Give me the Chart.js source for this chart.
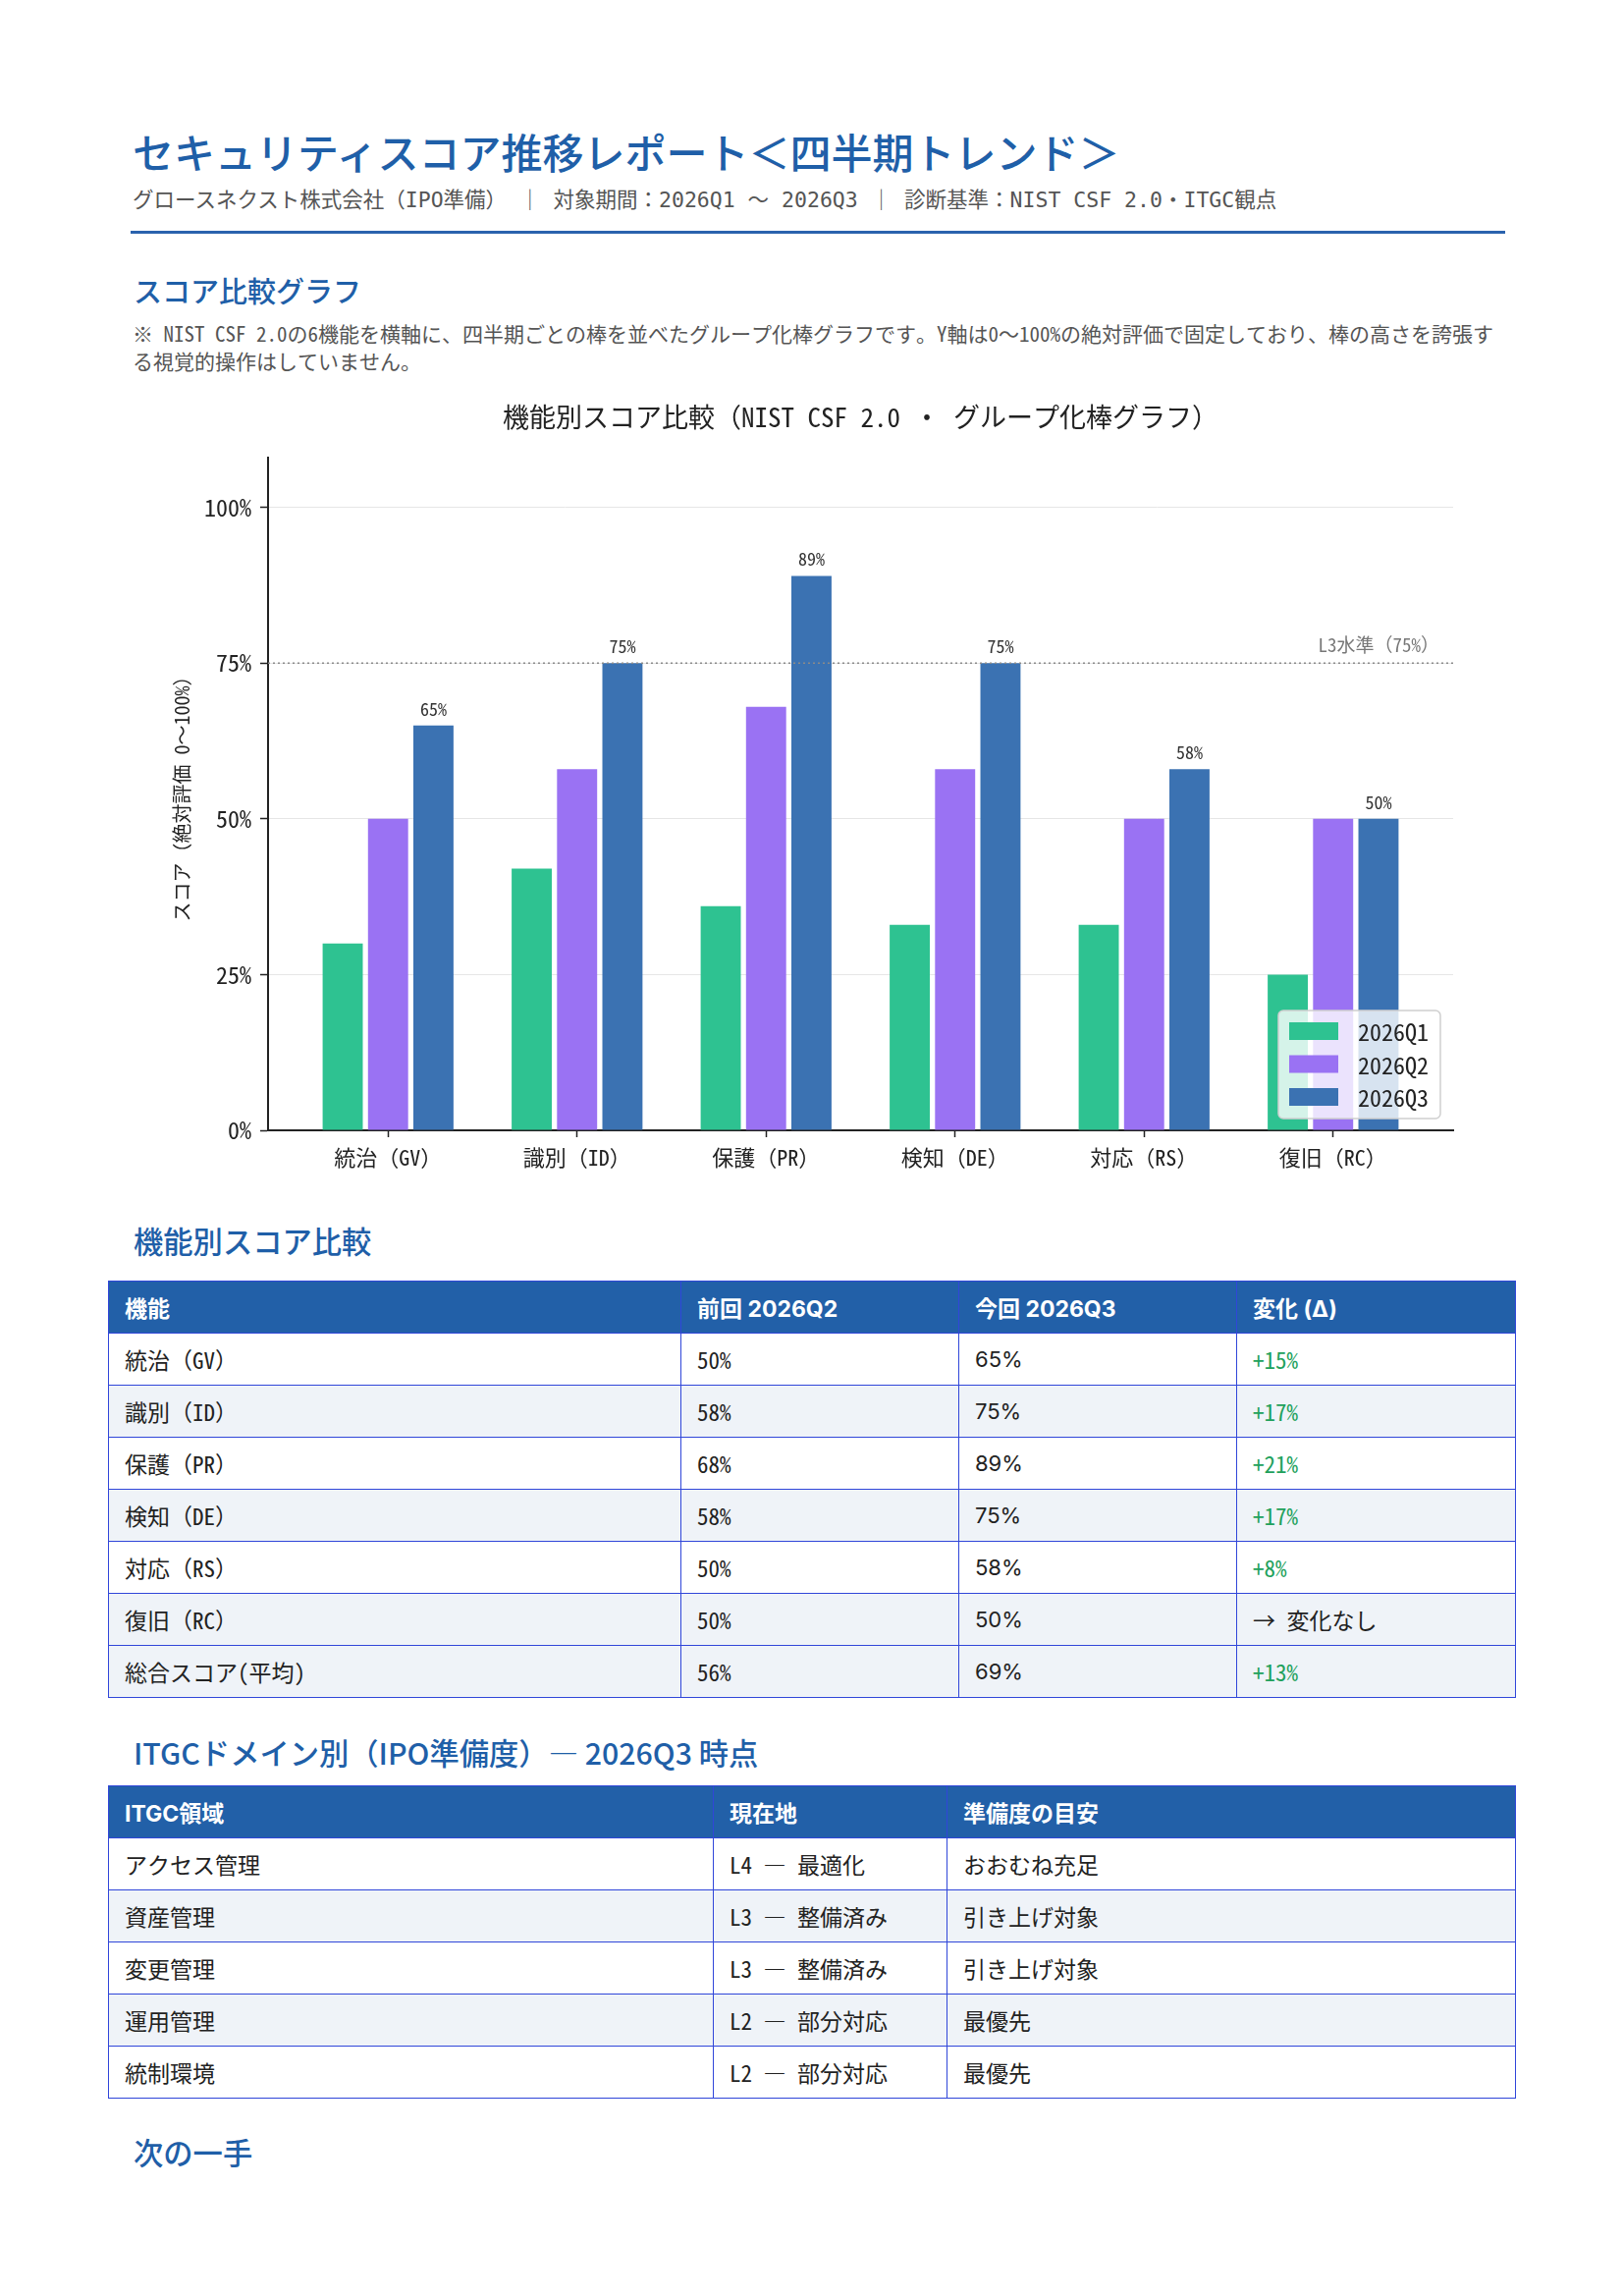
<!DOCTYPE html>
<html lang="ja">
<head>
<meta charset="utf-8">
<title>セキュリティスコア推移レポート</title>
<script src="https://cdn.jsdelivr.net/npm/chart.js@4.4.1/dist/chart.umd.min.js"></script>
<style>
  html, body { margin: 0; padding: 0; background: #fff; }
  body {
    width: 1653px; height: 2338px; position: relative;
    font-family: 'Noto Sans Mono CJK JP', 'DejaVu Sans Mono', monospace;
    color: #222;
  }
  .abs { position: absolute; }
  h1 {
    position: absolute; left: 135px; top: 133px; margin: 0;
    font: 500 42px/42px 'Noto Sans CJK JP', sans-serif;
    color: #1f5fa8; white-space: nowrap;
  }
  .sub {
    left: 135px; top: 190px; font-size: 21.5px; line-height: 28px; color: #555; white-space: nowrap;
    font-family: 'DejaVu Sans Mono', 'Noto Sans CJK JP', monospace;
  }
  .rule { left: 133px; top: 235px; width: 1400px; height: 3px; background: #2a62ad; }
  h2 {
    position: absolute; left: 136px; margin: 0;
    font: 500 30.3px/30px 'Noto Sans CJK JP', sans-serif;
    color: #1f5fa8; white-space: nowrap;
  }
  h2.first { font-size: 29px; }
  .note { left: 135px; top: 325px; width: 1398px; font-size: 21px; line-height: 28px; color: #555; }
  #chartBox { left: 100px; top: 382px; width: 1453px; height: 850px; }
  table { position: absolute; left: 110px; width: 1433px; border-collapse: collapse; table-layout: fixed; }
  th, td {
    border: 1px solid #3046d9; height: 52px; padding: 0 16px;
    text-align: left; vertical-align: middle; white-space: nowrap;
  }
  th {
    background: #2260a8; color: #fff;
    font: 700 23px 'Inter', 'Noto Sans CJK JP', sans-serif;
  }
  td { font-size: 23px; color: #222; background: #fff; }
  tr.alt td { background: #eff3f8; }
  td.sans { font-family: 'Inter', 'Noto Sans CJK JP', sans-serif; font-size: 22px; }
  td.up { color: #22a15c; }
</style>
</head>
<body>

<h1>セキュリティスコア推移レポート＜四半期トレンド＞</h1>
<div class="abs sub">グロースネクスト株式会社（IPO準備） ｜ 対象期間：2026Q1 〜 2026Q3 ｜ 診断基準：NIST CSF 2.0・ITGC観点</div>
<div class="abs rule"></div>

<h2 class="first" style="top:280px">スコア比較グラフ</h2>
<div class="abs note">※ NIST CSF 2.0の6機能を横軸に、四半期ごとの棒を並べたグループ化棒グラフです。Y軸は0〜100%の絶対評価で固定しており、棒の高さを誇張する視覚的操作はしていません。</div>

<div class="abs" id="chartBox"><canvas id="scoreChart" width="1453" height="850"></canvas></div>

<h2 style="top:1248px">機能別スコア比較</h2>
<table style="top:1304px">
  <colgroup><col style="width:583px"><col style="width:283px"><col style="width:283px"><col style="width:284px"></colgroup>
  <tr><th>機能</th><th>前回 2026Q2</th><th>今回 2026Q3</th><th>変化 (Δ)</th></tr>
  <tr><td>統治（GV）</td><td>50%</td><td class="sans">65%</td><td class="up">+15%</td></tr>
  <tr class="alt"><td>識別（ID）</td><td>58%</td><td class="sans">75%</td><td class="up">+17%</td></tr>
  <tr><td>保護（PR）</td><td>68%</td><td class="sans">89%</td><td class="up">+21%</td></tr>
  <tr class="alt"><td>検知（DE）</td><td>58%</td><td class="sans">75%</td><td class="up">+17%</td></tr>
  <tr><td>対応（RS）</td><td>50%</td><td class="sans">58%</td><td class="up">+8%</td></tr>
  <tr class="alt"><td>復旧（RC）</td><td>50%</td><td class="sans">50%</td><td>→ 変化なし</td></tr>
  <tr class="alt"><td>総合スコア(平均)</td><td>56%</td><td class="sans">69%</td><td class="up">+13%</td></tr>
</table>

<h2 style="top:1769px">ITGCドメイン別（IPO準備度）— 2026Q3 時点</h2>
<table style="top:1818px">
  <colgroup><col style="width:616px"><col style="width:238px"><col style="width:579px"></colgroup>
  <tr><th>ITGC領域</th><th>現在地</th><th>準備度の目安</th></tr>
  <tr><td>アクセス管理</td><td>L4 — 最適化</td><td>おおむね充足</td></tr>
  <tr class="alt"><td>資産管理</td><td>L3 — 整備済み</td><td>引き上げ対象</td></tr>
  <tr><td>変更管理</td><td>L3 — 整備済み</td><td>引き上げ対象</td></tr>
  <tr class="alt"><td>運用管理</td><td>L2 — 部分対応</td><td>最優先</td></tr>
  <tr><td>統制環境</td><td>L2 — 部分対応</td><td>最優先</td></tr>
</table>

<h2 style="top:2176px">次の一手</h2>

<script>
// chart data
const categories = ['統治（GV）', '識別（ID）', '保護（PR）', '検知（DE）', '対応（RS）', '復旧（RC）'];
const seriesNames = ['2026Q1', '2026Q2', '2026Q3'];
const q1Scores = [30, 42, 36, 33, 33, 25];
const q2Scores = [50, 58, 68, 58, 50, 50];
const q3Scores = [65, 75, 89, 75, 58, 50];
const yTickValues = [0, 25, 50, 75, 100];
const l3Level = 75;
const l3Label = 'L3水準（75%）';

const mono = "'Noto Sans Mono CJK JP', 'DejaVu Sans Mono', monospace";
const barColors = ['#2ec291', '#9a72f3', '#3b72b2'];

function toPoints(values) {
  return values.map(function(v, i) { return { x: i, y: v }; });
}

// L3 line, value labels on Q3 and the legend box inside the plot
const overlayPlugin = {
  id: 'overlay',
  afterDatasetsDraw: function(chart) {
    const ctx = chart.ctx;
    const area = chart.chartArea;
    const yScale = chart.scales.y;
    const ly = yScale.getPixelForValue(l3Level);

    ctx.save();
    ctx.strokeStyle = '#8a8a8a';
    ctx.lineWidth = 1.5;
    ctx.setLineDash([2, 3]);
    ctx.beginPath();
    ctx.moveTo(area.left, ly);
    ctx.lineTo(area.right, ly);
    ctx.stroke();
    ctx.setLineDash([]);

    ctx.font = '19px ' + mono;
    ctx.fillStyle = '#777';
    ctx.textAlign = 'right';
    ctx.textBaseline = 'bottom';
    ctx.fillText(l3Label, area.right - 14, ly - 9);

    const meta = chart.getDatasetMeta(2);
    ctx.font = '18px ' + mono;
    ctx.fillStyle = '#333';
    ctx.textAlign = 'center';
    meta.data.forEach(function(bar, i) {
      ctx.fillText(q3Scores[i] + '%', bar.x, bar.y - 8);
    });

    // legend
    const w = 165, h = 110;
    const bx = area.right - 13 - w;
    const by = area.bottom - 12 - h;
    ctx.beginPath();
    ctx.roundRect(bx, by, w, h, 5);
    ctx.fillStyle = 'rgba(255,255,255,0.8)';
    ctx.fill();
    ctx.strokeStyle = '#cfcfcf';
    ctx.lineWidth = 1.5;
    ctx.stroke();
    ctx.font = '24px ' + mono;
    ctx.textAlign = 'left';
    ctx.textBaseline = 'middle';
    seriesNames.forEach(function(name, i) {
      const cy = by + 21 + i * 33.5;
      ctx.fillStyle = barColors[i];
      ctx.fillRect(bx + 11, cy - 9, 50, 18);
      ctx.fillStyle = '#222';
      ctx.fillText(name, bx + 81, cy + 1);
    });
    ctx.restore();
  }
};

const seriesValues = [q1Scores, q2Scores, q3Scores];

new Chart(document.getElementById('scoreChart'), {
  type: 'bar',
  data: {
    datasets: seriesNames.map(function(name, i) {
      return {
        label: name,
        data: toPoints(seriesValues[i]),
        backgroundColor: barColors[i],
        borderWidth: 0,
        categoryPercentage: 0.72,
        barPercentage: 0.885
      };
    })
  },
  options: {
    responsive: false,
    animation: false,
    layout: { padding: { left: 0, right: 73, top: 0, bottom: 0 } },
    plugins: {
      legend: { display: false },
      tooltip: { enabled: false },
      title: {
        display: true,
        fullSize: false,
        text: '機能別スコア比較（NIST CSF 2.0 ・ グループ化棒グラフ）',
        color: '#222',
        font: { family: mono, size: 27, weight: 'normal' },
        padding: { top: 27, bottom: 24.6 }
      }
    },
    scales: {
      x: {
        type: 'linear',
        bounds: 'data',
        min: -0.635,
        max: 5.635,
        offset: false,
        afterBuildTicks: function(s) { s.ticks = categories.map(function(c, i) { return { value: i }; }); },
        afterFit: function(s) { s.height = 81; },
        ticks: {
          autoSkip: false, maxRotation: 0, padding: 7, color: '#222',
          font: { family: mono, size: 22 },
          callback: function(v) { return categories[v]; }
        },
        grid: { offset: false, drawOnChartArea: false, tickLength: 7, tickColor: '#222', tickWidth: 1.5 },
        border: { display: true, color: '#222', width: 2 }
      },
      y: {
        bounds: 'data',
        min: 0,
        max: 108,
        afterBuildTicks: function(s) { s.ticks = yTickValues.map(function(v) { return { value: v }; }); },
        afterFit: function(s) { s.width = 173; },
        ticks: {
          padding: 9, color: '#222',
          font: { family: mono, size: 24 },
          callback: function(v) { return v + '%'; }
        },
        grid: { color: '#e6e6e6', lineWidth: 1, tickLength: 8, tickColor: '#222', tickWidth: 1.5 },
        border: { display: true, color: '#222', width: 2 },
        title: {
          display: true,
          text: 'スコア（絶対評価 0〜100%）',
          color: '#222',
          font: { family: mono, size: 20 },
          padding: { top: 73, bottom: 0 }
        }
      }
    }
  },
  plugins: [overlayPlugin]
});
</script>
</body>
</html>
